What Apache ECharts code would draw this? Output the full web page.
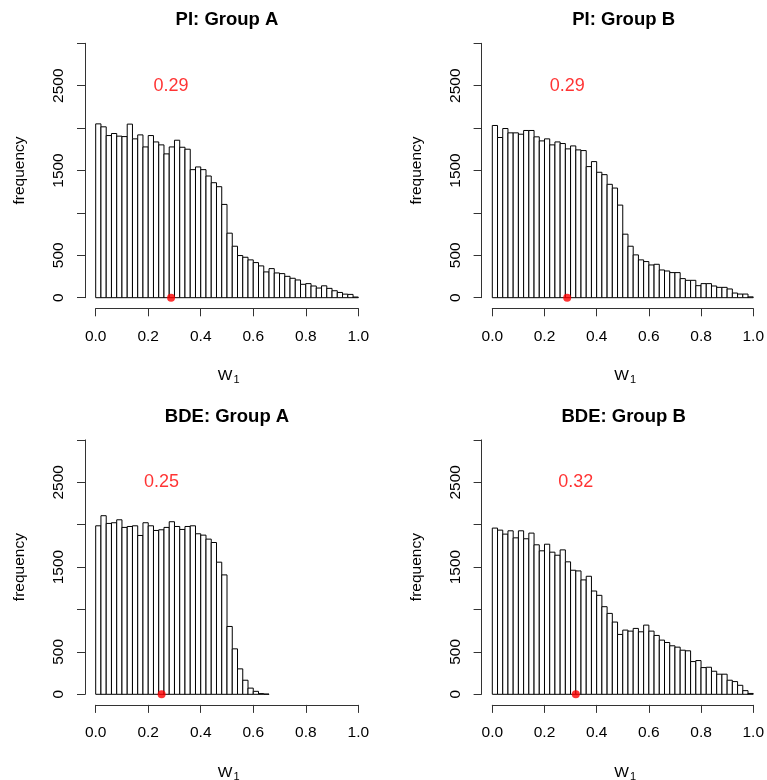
<!DOCTYPE html>
<html><head><meta charset="utf-8">
<script src="https://cdn.jsdelivr.net/npm/echarts@6/dist/echarts.min.js"></script>
<style>html,body{margin:0;padding:0;background:#fff}#c{width:767px;height:780px}</style>
</head><body><div id="c"></div><script>
// ---- data ----
const binWidth = 0.02;
const piA = [2050,2015,1912,1936,1905,1900,2047,1873,1920,1778,
             1912,1837,1802,1696,1778,1857,1774,1751,1510,1542,
             1510,1435,1356,1309,1100,761,607,497,477,446,
             414,375,304,343,292,284,252,229,209,158,
             166,138,114,140,110,82,62,42,39,8];
const piB = [2031,1889,1995,1944,1944,1928,1972,1972,1897,1849,
             1873,1802,1837,1818,1755,1790,1743,1735,1546,1605,
             1479,1451,1337,1293,1092,749,607,505,446,426,
             386,394,327,315,296,296,225,205,205,142,
             166,166,138,122,122,103,55,43,43,10];
const bdeA = [1987,2106,2015,2023,2058,1968,1979,1987,1873,2023,
              1987,1932,1940,1968,2035,1979,1944,1979,1987,1893,
              1877,1830,1790,1558,1408,800,536,300,166,73,
              35,8,3];
const bdeB = [1960,1936,1889,1928,1845,1928,1834,1901,1763,1692,
              1770,1676,1640,1703,1562,1463,1455,1349,1392,1218,
              1167,1033,954,852,706,757,745,777,737,816,
              745,694,639,611,572,556,520,513,386,398,
              315,319,272,237,237,166,150,106,43,10];
const panelTitles = ['PI: Group A','PI: Group B','BDE: Group A','BDE: Group B'];
const meanValues = [0.287, 0.287, 0.251, 0.320];
const meanLabels = ['0.29','0.29','0.25','0.32'];
const xTickLabels = ['0.0','0.2','0.4','0.6','0.8','1.0'];
const yTickValues = [0,500,1000,1500,2000,2500,3000];
const yTickLabels = ['0','500','','1500','','2500',''];
const xAxisLabel = 'W';
const xAxisSub = '1';
const yAxisLabel = 'frequency';

// ---- layout ----
const FONT = '"Liberation Sans", Arial, Helvetica, sans-serif';
const DX = 396.6, DY = 396.6;
const G = {left: 95.7, top: 43.3, width: 262.6, height: 254.4};
const panels = [piA, piB, bdeA, bdeB];

const grids = [], xAxes = [], yAxes = [], series = [], graphics = [];
panels.forEach((counts, i) => {
  const col = i % 2, row = Math.floor(i / 2);
  const ox = col * DX, oy = row * DY;
  grids.push({left: G.left + ox, top: G.top + oy, width: G.width, height: G.height, containLabel: false});
  xAxes.push({
    type: 'value', gridIndex: i, min: 0, max: 1, interval: 0.2, offset: 10.6, position: 'bottom',
    axisLine: {show: true, onZero: false, lineStyle: {color: '#333', width: 1}},
    axisTick: {show: true, length: 8, lineStyle: {color: '#333', width: 1}},
    axisLabel: {color: '#000', fontSize: 15.5, fontFamily: FONT, margin: 20,
      formatter: v => xTickLabels[Math.round(v / 0.2)]},
    splitLine: {show: false}
  });
  yAxes.push({
    type: 'value', gridIndex: i, min: 0, max: 3000, interval: 500, offset: 10.7, position: 'left',
    axisLine: {show: true, onZero: false, lineStyle: {color: '#333', width: 1}},
    axisTick: {show: true, length: 8, lineStyle: {color: '#333', width: 1}},
    axisLabel: {color: '#000', fontSize: 15.5, fontFamily: FONT, margin: 18, rotate: 90,
      formatter: v => yTickLabels[yTickValues.indexOf(v)] || ''},
    splitLine: {show: false}
  });
  const binData = counts.map((c, k) => [k * binWidth, (k + 1) * binWidth, c]);
  series.push({
    type: 'custom', xAxisIndex: i, yAxisIndex: i, data: binData,
    encode: {x: [0, 1], y: 2},
    renderItem: function (params, api) {
      const p0 = api.coord([api.value(0), api.value(2)]);
      const p1 = api.coord([api.value(1), 0]);
      return {type: 'rect', shape: {x: p0[0], y: p0[1], width: p1[0] - p0[0], height: p1[1] - p0[1]},
        style: {fill: '#fff', stroke: '#000', lineWidth: 1}};
    }
  });
  series.push({
    type: 'scatter', xAxisIndex: i, yAxisIndex: i, data: [[meanValues[i], 0]],
    symbol: 'circle', symbolSize: 8, itemStyle: {color: '#ff0000'}, z: 5, silent: true
  });
  series.push({
    type: 'scatter', xAxisIndex: i, yAxisIndex: i, data: [[meanValues[i], 2500]],
    symbolSize: 1, itemStyle: {color: 'rgba(0,0,0,0)'}, z: 5, silent: true,
    label: {show: true, position: 'inside', formatter: meanLabels[i], color: '#ff0000',
      fontSize: 18, fontFamily: FONT}
  });
  const cx = G.left + G.width / 2 + ox;
  graphics.push({type: 'text', x: cx, y: 20 + oy,
    style: {text: panelTitles[i], font: 'bold 18.5px ' + FONT, fill: '#000', textAlign: 'center', textVerticalAlign: 'middle'}});
  graphics.push({type: 'text', x: 20 + ox, y: 170.5 + oy, rotation: Math.PI / 2,
    style: {text: yAxisLabel, font: '15.5px ' + FONT, fill: '#000', textAlign: 'center', textVerticalAlign: 'middle'}});
  graphics.push({type: 'text', x: 225 + ox, y: 376 + oy,
    style: {text: xAxisLabel, font: '15.5px ' + FONT, fill: '#000', textAlign: 'center', textVerticalAlign: 'middle'}});
  graphics.push({type: 'text', x: 233.5 + ox, y: 380 + oy,
    style: {text: xAxisSub, font: '11px ' + FONT, fill: '#000', textAlign: 'left', textVerticalAlign: 'middle'}});
});

const chart = echarts.init(document.getElementById('c'), null, {renderer: 'canvas'});
chart.setOption({
  backgroundColor: '#fff',
  animation: false,
  grid: grids, xAxis: xAxes, yAxis: yAxes, series: series,
  graphic: graphics
});
</script></body></html>
